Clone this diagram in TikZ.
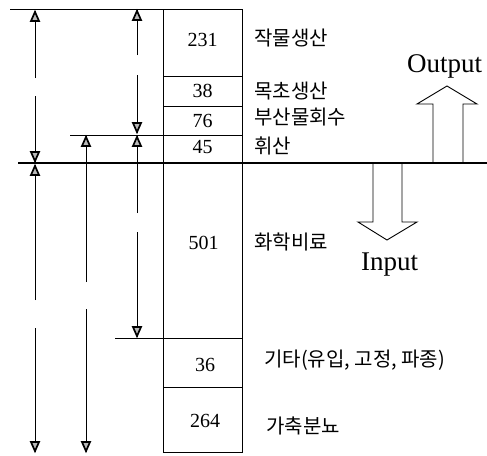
\documentclass[tikz,border=0pt]{standalone}
\usepackage{fontspec}
\setmainfont{Liberation Serif}
\newfontfamily\kr{Noto Sans CJK KR}
\tikzset{
  thinln/.style={line width=0.8pt},
  dimline/.style={line width=0.8pt},
  tiphead/.style={draw, line width=1.7pt, line join=miter, fill=gray!55},
  uptip/.pic={\path[tiphead] (0,0.9) -- (-4,10) -- (4,10) -- cycle;},
  downtip/.pic={\path[tiphead] (0,-0.9) -- (-4,-10) -- (4,-10) -- cycle;},
  num/.style={font=\fontsize{20}{22}\selectfont, inner sep=0pt},
  krlabel/.style={font=\kr\fontsize{20}{22}\selectfont, anchor=west, inner sep=0pt},
  big/.style={font=\fontsize{27}{30}\selectfont, inner sep=0pt},
  hollow/.style={draw, fill=white, line width=0.9pt, line join=miter}
}
\begin{document}
\begin{tikzpicture}[x=1pt,y=-1pt]
\useasboundingbox (0,0) rectangle (487,455);
% column
\draw[thinln] (163,9) rectangle (242,452);
\foreach \yy in {76,106,135,338,387} \draw[thinln] (163,\yy) -- (242,\yy);
% horizontal reference lines
\draw[thinln] (10,9) -- (163,9);
\draw[thinln] (70,135) -- (163,135);
\draw[thinln] (115,338) -- (163,338);
% hollow arrows
\draw[hollow] (433,163) -- (433,104) -- (417,104) -- (447,86) -- (477,104) -- (463,104) -- (463,163);
\draw[hollow] (373,163) -- (373,222) -- (358,222) -- (387,240) -- (417,222) -- (402,222) -- (402,163);
% baseline
\draw[line width=1.6pt] (18,163) -- (487,163);
% numbers
\node[num] (n231) at (202.5,40) {231};
\node[num] (n38) at (202.5,91) {38};
\node[num] (n76) at (202.5,120.5) {76};
\node[num] (n45) at (202.5,147.5) {45};
\node[num] (n501) at (203.5,242.5) {501};
\node[num] (n36) at (205,364.5) {36};
\node[num] (n264) at (205,420.5) {264};
% labels
\node[krlabel] (l1) at (254,38) {작물생산};
\node[krlabel] (l2) at (254,91) {목초생산};
\node[krlabel] (l3) at (254,117) {부산물회수};
\node[krlabel] (l4) at (254,146) {휘산};
\node[krlabel] (l5) at (254,242) {화학비료};
\node[krlabel] (l6) at (264,360) {기타(유입, 고정, 파종)};
\node[krlabel] (l7) at (266,426) {가축분뇨};
\node[big, anchor=base west] (out) at (407,72) {Output};
\node[big, anchor=base west] (in) at (361,270) {Input};
% dimension arrows
\coordinate (a1t) at (35,11);   \coordinate (a1g1) at (35,78);  \coordinate (a1g2) at (35,96);  \coordinate (a1b) at (35,162);
\coordinate (a1t2) at (35,165); \coordinate (a1g3) at (35,300); \coordinate (a1g4) at (35,328); \coordinate (a1b2) at (35,452);
\coordinate (a2t) at (86,136);  \coordinate (a2g1) at (86,282); \coordinate (a2g2) at (86,309); \coordinate (a2b) at (86,452);
\coordinate (a3t) at (137,10);  \coordinate (a3g1) at (137,55); \coordinate (a3g2) at (137,75); \coordinate (a3b) at (137,133);
\coordinate (a3t2) at (137,136);\coordinate (a3g3) at (137,213);\coordinate (a3g4) at (137,232);\coordinate (a3b2) at (137,337);
\draw[dimline] (a1g1) -- (a1t);
\draw[dimline] (a1g2) -- (a1b);
\draw[dimline] (a1g3) -- (a1t2);
\draw[dimline] (a1g4) -- (a1b2);
\draw[dimline] (a2g1) -- (a2t);
\draw[dimline] (a2g2) -- (a2b);
\draw[dimline] (a3g1) -- (a3t);
\draw[dimline] (a3g2) -- (a3b);
\draw[dimline] (a3g3) -- (a3t2);
\draw[dimline] (a3g4) -- (a3b2);
\foreach \c in {a1t,a1t2,a2t,a3t,a3t2} \pic at (\c) {uptip};
\foreach \c in {a1b,a1b2,a2b,a3b,a3b2} \pic at (\c) {downtip};
\end{tikzpicture}
\end{document}
